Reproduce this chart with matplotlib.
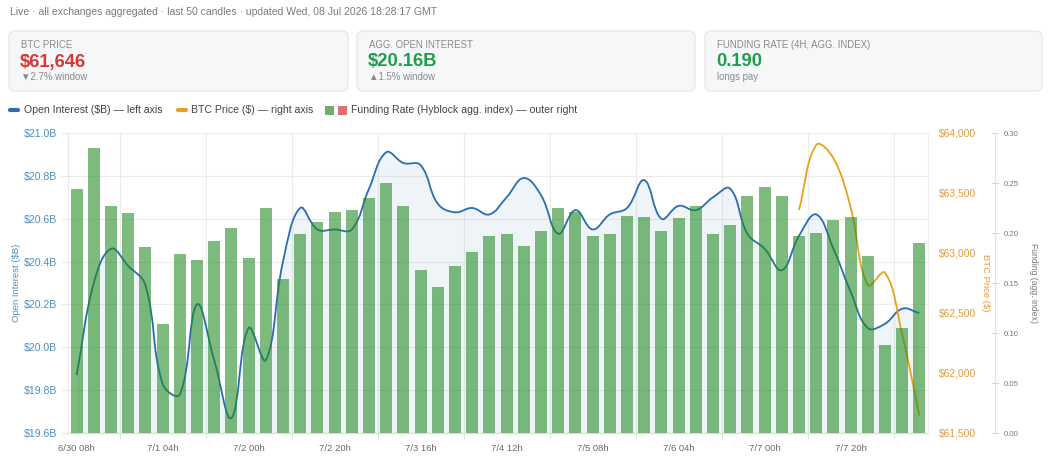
import numpy as np
import matplotlib
matplotlib.use('Agg')
import matplotlib.pyplot as plt
from matplotlib.path import Path
from matplotlib.patches import PathPatch, FancyBboxPatch, Rectangle
from matplotlib.ticker import FuncFormatter

plt.rcParams['font.family'] = ['Liberation Sans', 'DejaVu Sans']

# data: 50 candles of 4h
tick_labels = ['6/30 08h', '7/1 04h', '7/2 00h', '7/2 20h', '7/3 16h',
               '7/4 12h', '7/5 08h', '7/6 04h', '7/7 00h', '7/7 20h']
oi = [19.87, 20.30, 20.46, 20.38, 20.29, 19.83, 19.78, 20.20, 19.94, 19.67,
      20.09, 19.94, 20.40, 20.65, 20.55, 20.55, 20.55, 20.74, 20.91, 20.86,
      20.85, 20.67, 20.63, 20.65, 20.62, 20.70, 20.79, 20.71, 20.53, 20.64,
      20.55, 20.62, 20.65, 20.78, 20.60, 20.66, 20.64, 20.70, 20.74, 20.53,
      20.46, 20.36, 20.52, 20.62, 20.46, 20.26, 20.09, 20.11, 20.18, 20.16]
funding = [0.244, 0.285, 0.227, 0.220, 0.186, 0.109, 0.179, 0.173, 0.192, 0.205,
           0.175, 0.225, 0.154, 0.199, 0.211, 0.221, 0.223, 0.235, 0.250, 0.227,
           0.163, 0.146, 0.167, 0.181, 0.197, 0.199, 0.187, 0.202, 0.225, 0.221,
           0.197, 0.199, 0.217, 0.216, 0.202, 0.215, 0.227, 0.199, 0.208, 0.237,
           0.246, 0.237, 0.197, 0.200, 0.213, 0.216, 0.177, 0.088, 0.105, 0.190]
# BTC price only available for the last candles
price_idx = [42, 43, 44, 45, 46, 47, 48, 49]
price = [63358, 63900, 63790, 63380, 62733, 62836, 62320, 61646]

n = len(oi)
x = np.arange(n)

W, H = 1050, 459
fig = plt.figure(figsize=[W / 100, H / 100], dpi=100)

# overlay for header / cards / legend in pixel coords
hd = fig.add_axes([0, 0, 1, 1], zorder=-1)
hd.set_xlim(0, W)
hd.set_ylim(H, 0)
hd.axis('off')

hd.text(10, 12, 'Live · all exchanges aggregated · last 50 candles · updated Wed, 08 Jul 2026 18:28:17 GMT',
        fontsize=7.5, color='#7a7a7a', va='center')

red = '#d93636'
green = '#1f9d4c'
p_chg = (price[-1] - price[0]) / price[0] * 100
oi_chg = (oi[-1] - oi[0]) / oi[0] * 100
cards = [
    (9, 348, 'BTC PRICE', f'${price[-1]:,.0f}', red if p_chg < 0 else green,
     ('▼' if p_chg < 0 else '▲') + f'{abs(p_chg):.1f}% window'),
    (357, 695, 'AGG. OPEN INTEREST', f'${oi[-1]:.2f}B', green if oi_chg > 0 else red,
     ('▲' if oi_chg > 0 else '▼') + f'{abs(oi_chg):.1f}% window'),
    (705, 1042, 'FUNDING RATE (4H, AGG. INDEX)', f'{funding[-1]:.3f}', green, 'longs pay'),
]
for x0, x1, title, val, col, sub in cards:
    hd.add_patch(FancyBboxPatch((x0, 31), x1 - x0, 60, boxstyle='round,pad=0,rounding_size=6',
                                facecolor='#f6f7f9', edgecolor='#e3e5e9', lw=0.8))
    hd.text(x0 + 12, 45, title, fontsize=6.9, color='#8a8a8a', va='center')
    hd.text(x0 + 11, 62, val, fontsize=13.2, color=col, fontweight='bold', va='center')
    hd.text(x0 + 12, 77, sub, fontsize=6.9, color='#8a8a8a', va='center')

# legend row
oi_col = '#2a6ead'
pr_col = '#e8a21a'
bar_col = '#228b22'
hd.plot([10, 18], [110, 110], color=oi_col, lw=3, solid_capstyle='round')
hd.text(24, 110, 'Open Interest ($B) — left axis', fontsize=7.6, color='#444', va='center')
hd.plot([178, 186], [110, 110], color=pr_col, lw=3, solid_capstyle='round')
hd.text(191, 110, 'BTC Price ($) — right axis', fontsize=7.6, color='#444', va='center')
hd.add_patch(Rectangle((325, 106), 9, 9, facecolor='#6fae6f', edgecolor='none'))
hd.add_patch(Rectangle((338, 106), 9, 9, facecolor='#e07070', edgecolor='none'))
hd.text(351, 110, 'Funding Rate (Hyblock agg. index) — outer right', fontsize=7.6, color='#444', va='center')

# main chart
L, R, T, B = 68, 928, 133, 433
ax = fig.add_axes([L / W, 1 - B / H, (R - L) / W, (B - T) / H])
ax.set_xlim(-0.5, n - 0.5)
ax.set_ylim(19.6, 21.0)
ax.set_yticks(np.arange(19.6, 21.01, 0.2))
ax.yaxis.set_major_formatter(FuncFormatter(lambda v, _: f'${v:.1f}B'))
ax.tick_params(axis='y', colors='#e8e8e8', labelcolor='#4a8fc6', labelsize=7.6, length=5, pad=3)
ax.set_xticks(x[::5])
ax.set_xticklabels(tick_labels)
ax.set_xticks(np.arange(2.5, n, 5), minor=True)
ax.tick_params(axis='x', which='major', length=0, labelsize=6.8, labelcolor='#6b6b6b', pad=8)
ax.tick_params(axis='x', which='minor', length=4, color='#dddddd')
ax.grid(axis='y', color='#ececec', lw=0.8)
ax.grid(axis='x', which='minor', color='#ececec', lw=0.8)
for s in ['top', 'right']:
    ax.spines[s].set_visible(False)
ax.spines['left'].set_color('#e6e6e6')
ax.spines['bottom'].set_color('#dddddd')
ax.set_ylabel('Open Interest ($B)', fontsize=6.8, color='#4a8fc6', labelpad=2)

ax_p = ax.twinx()
ax_p.set_ylim(61500, 64000)
ax_p.set_yticks(np.arange(61500, 64001, 500))
ax_p.yaxis.set_major_formatter(FuncFormatter(lambda v, _: f'${v:,.0f}'))
ax_p.tick_params(axis='y', length=0, labelsize=7.4, labelcolor='#e39b3c', pad=8)
for s in ['top', 'left', 'bottom']:
    ax_p.spines[s].set_visible(False)
ax_p.spines['right'].set_color('#eeeeee')
ax_p.set_ylabel('BTC Price ($)', fontsize=6.8, color='#e39b3c', rotation=270, labelpad=10)

ax_f = ax.twinx()
ax_f.set_ylim(0, 0.30)
ax_f.set_yticks(np.arange(0, 0.301, 0.05))
ax_f.yaxis.set_major_formatter(FuncFormatter(lambda v, _: f'{v:.2f}'))
ax_f.spines['right'].set_position(('axes', (995 - L) / (R - L)))
ax_f.spines['right'].set_color('#e4e4e4')
for s in ['top', 'left', 'bottom']:
    ax_f.spines[s].set_visible(False)
ax_f.tick_params(axis='y', direction='inout', length=5, color='#cccccc', labelsize=5.6,
                 labelcolor='#777777', pad=4)
ax_f.set_ylabel('Funding (agg. index)', fontsize=6.2, color='#777777', rotation=270, labelpad=14)


def smooth_verts(a, xs, ys, t=0.4):
    # bezier control points like chart.js tension curves, computed in pixel space
    pts = a.transData.transform(np.column_stack([xs, ys]))
    m = len(pts)
    cin, cout = [], []
    for i in range(m):
        p0 = pts[max(i - 1, 0)]
        p1 = pts[i]
        p2 = pts[min(i + 1, m - 1)]
        d01 = np.hypot(*(p1 - p0))
        d12 = np.hypot(*(p2 - p1))
        tot = d01 + d12
        s01 = d01 / tot if tot else 0
        s12 = d12 / tot if tot else 0
        cin.append(p1 - t * s01 * (p2 - p0))
        cout.append(p1 + t * s12 * (p2 - p0))
    verts = [pts[0]]
    codes = [Path.MOVETO]
    for i in range(m - 1):
        verts += [cout[i], cin[i + 1], pts[i + 1]]
        codes += [Path.CURVE4] * 3
    verts = a.transData.inverted().transform(np.array(verts))
    return verts, codes


# OI line with light fill
v, c = smooth_verts(ax, x, oi)
fill_v = np.vstack([v, [[x[-1], 19.6], [x[0], 19.6], v[0]]])
fill_c = c + [Path.LINETO, Path.LINETO, Path.CLOSEPOLY]
ax.add_patch(PathPatch(Path(fill_v, fill_c), facecolor=oi_col, alpha=0.07, edgecolor='none', zorder=2))
ax.add_patch(PathPatch(Path(v, c), facecolor='none', edgecolor=oi_col, lw=1.3, zorder=3))

# price line
v2, c2 = smooth_verts(ax_p, price_idx, price)
ax_p.add_patch(PathPatch(Path(v2, c2), facecolor='none', edgecolor=pr_col, lw=1.3, zorder=3))

# funding bars on top, semi transparent
ax_f.bar(x, funding, width=0.7, color=bar_col, alpha=0.58, zorder=4)

fig.savefig('out.png', dpi=100)
